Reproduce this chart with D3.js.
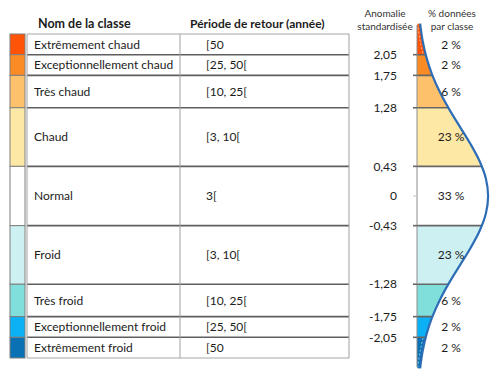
<!DOCTYPE html>
<html>
<head>
<meta charset="utf-8">
<script src="https://cdn.jsdelivr.net/npm/d3@7"></script>
<style>
  body { margin: 0; background: #fff; }
  svg { font-family: Lato, "Noto Sans", sans-serif; }
</style>
</head>
<body>
<svg id="chart" width="500" height="376"></svg>
<script>
const classNames = ["Extrêmement chaud", "Exceptionnellement chaud", "Très chaud", "Chaud", "Normal",
  "Froid", "Très froid", "Exceptionnellement froid", "Extrêmement froid"];
const periods = ["[50", "[25, 50[", "[10, 25[", "[3, 10[", "3[", "[3, 10[", "[10, 25[", "[25, 50[", "[50"];
const classColors = ["#ff5408", "#fb8c25", "#fdc16c", "#fee8a6", "#ffffff", "#cdf1f2", "#80dedb", "#0cb0f4", "#0a72b4"];
const percents = ["2 %", "2 %", "6 %", "23 %", "33 %", "23 %", "6 %", "2 %", "2 %"];
// class limits on the standardised anomaly (outer ones = table edges)
const limits = [2.35, 2.05, 1.75, 1.28, 0.43, -0.43, -1.28, -1.75, -2.05, -2.35];
const tickValues = [2.05, 1.75, 1.28, 0.43, 0, -0.43, -1.28, -1.75, -2.05];
const tickLabels = ["2,05", "1,75", "1,28", "0,43", "0", "-0,43", "-1,28", "-1,75", "-2,05"];
// where the percentage labels sit (anomaly)
const percentAt = [2.2, 1.9, 1.515, 0.855, 0, -0.855, -1.515, -1.9, -2.2];
// bell curve: anomaly / density
const curveZ = [2.5, 2.25, 2.0, 1.75, 1.5, 1.25, 1.0, 0.75, 0.5, 0.25, 0,
  -0.25, -0.5, -0.75, -1.0, -1.25, -1.5, -1.75, -2.0, -2.25, -2.5];
const curveD = [0.0175, 0.0317, 0.054, 0.0863, 0.1295, 0.1826, 0.242, 0.3011, 0.3521, 0.3867, 0.3989,
  0.3867, 0.3521, 0.3011, 0.242, 0.1826, 0.1295, 0.0863, 0.054, 0.0317, 0.0175];

const svg = d3.select("#chart");
const y = d3.scaleLinear().domain([2.35, -2.35]).range([34, 358]);
const x = d3.scaleLinear().domain([0, 0.4]).range([417, 488.3]);
const textColor = "#1c1c1c";

// ---- table ----
const swX = 10, swW = 15, c0 = 27, c1 = 180, c2 = 349;

svg.append("text").attr("x", 38).attr("y", 28).attr("font-size", 12.5).attr("font-weight", "bold")
  .attr("fill", textColor).text("Nom de la classe");
svg.append("text").attr("x", 190).attr("y", 28).attr("font-size", 12).attr("font-weight", "bold")
  .attr("fill", textColor).text("Période de retour (année)");

classNames.forEach((name, i) => {
  const top = y(limits[i]), bot = y(limits[i + 1]), mid = (top + bot) / 2;
  svg.append("rect").attr("x", swX).attr("y", top).attr("width", swW).attr("height", bot - top)
    .attr("fill", classColors[i]).attr("stroke", "#7f7f7f").attr("stroke-width", 1);
  svg.append("text").attr("x", 34).attr("y", mid).attr("dy", "0.35em").attr("font-size", 12)
    .attr("fill", textColor).text(name);
  svg.append("text").attr("x", 206).attr("y", mid).attr("dy", "0.35em").attr("font-size", 12)
    .attr("fill", textColor).text(periods[i]);
});

// row separators
limits.forEach((v, i) => {
  const inner = i > 0 && i < limits.length - 1;
  svg.append("line").attr("x1", c0).attr("x2", c2).attr("y1", y(v)).attr("y2", y(v))
    .attr("stroke", inner ? "#5f5f5f" : "#a6a6a6").attr("stroke-width", inner ? 1.6 : 1);
});
[c0, c1, c2].forEach(cx => {
  svg.append("line").attr("x1", cx).attr("x2", cx).attr("y1", y(limits[0])).attr("y2", y(limits[limits.length - 1]))
    .attr("stroke", "#a0a0a0").attr("stroke-width", 1);
});

// ---- distribution ----
const pts = curveZ.map((z, i) => ({ z, d: curveD[i] }));
const area = d3.area().y(d => y(d.z)).x0(x(0)).x1(d => x(d.d)).curve(d3.curveCatmullRom);
const line = d3.line().y(d => y(d.z)).x(d => x(d.d)).curve(d3.curveCatmullRom);

const defs = svg.append("defs");
defs.append("clipPath").attr("id", "under").append("path").attr("d", area(pts));

classColors.forEach((c, i) => {
  const top = i === 0 ? 0 : y(limits[i]);
  const bot = i === classColors.length - 1 ? 376 : y(limits[i + 1]);
  defs.append("clipPath").attr("id", "band" + i).append("rect")
    .attr("x", 400).attr("y", top).attr("width", 100).attr("height", bot - top);
  svg.append("path").attr("d", area(pts)).attr("fill", c).attr("clip-path", `url(#band${i})`);
});

// white dashed inner edge in the two tails
[0, classColors.length - 1].forEach(i => {
  svg.append("path").attr("d", line(pts)).attr("transform", "translate(-2.5,0)")
    .attr("fill", "none").attr("stroke", "#fff").attr("stroke-width", 0.7).attr("opacity", 0.8)
    .attr("stroke-dasharray", "2,2").attr("clip-path", `url(#band${i})`);
});

// boundary lines reaching the curve
const bounds = limits.slice(1, -1);
const lines = svg.append("g").attr("clip-path", "url(#under)");
bounds.forEach(v => {
  lines.append("line").attr("x1", 400).attr("x2", 500).attr("y1", y(v)).attr("y2", y(v))
    .attr("stroke", "#666").attr("stroke-width", 1.6);
});

// axis
svg.append("line").attr("x1", x(0)).attr("x2", x(0)).attr("y1", y(2.48)).attr("y2", y(-2.48))
  .attr("stroke", "#8c8c8c").attr("stroke-width", 1);
tickValues.forEach((v, i) => {
  svg.append("line").attr("x1", 413).attr("x2", x(0)).attr("y1", y(v)).attr("y2", y(v))
    .attr("stroke", v === 0 ? "#c0c0c0" : "#666").attr("stroke-width", v === 0 ? 1 : 1.6);
  svg.append("text").attr("x", 397).attr("y", y(v)).attr("dy", "0.35em").attr("text-anchor", "end")
    .attr("font-size", 12).attr("fill", textColor).text(tickLabels[i]);
});

svg.append("path").attr("d", line(pts)).attr("fill", "none")
  .attr("stroke", "#2d6db5").attr("stroke-width", 2.2);

// percentages
percents.forEach((p, i) => {
  svg.append("text").attr("x", 451).attr("y", y(percentAt[i])).attr("dy", "0.35em").attr("text-anchor", "middle")
    .attr("font-size", 12).attr("fill", textColor).text(p);
});

// headers of the right part
[["Anomalie", "standardisée", 385], ["% données", "par classe", 452]].forEach(([l1, l2, cx]) => {
  const t = svg.append("text").attr("text-anchor", "middle").attr("font-size", 10).attr("fill", "#333");
  t.append("tspan").attr("x", cx).attr("y", 17).text(l1);
  t.append("tspan").attr("x", cx).attr("y", 30).text(l2);
});
</script>
</body>
</html>
